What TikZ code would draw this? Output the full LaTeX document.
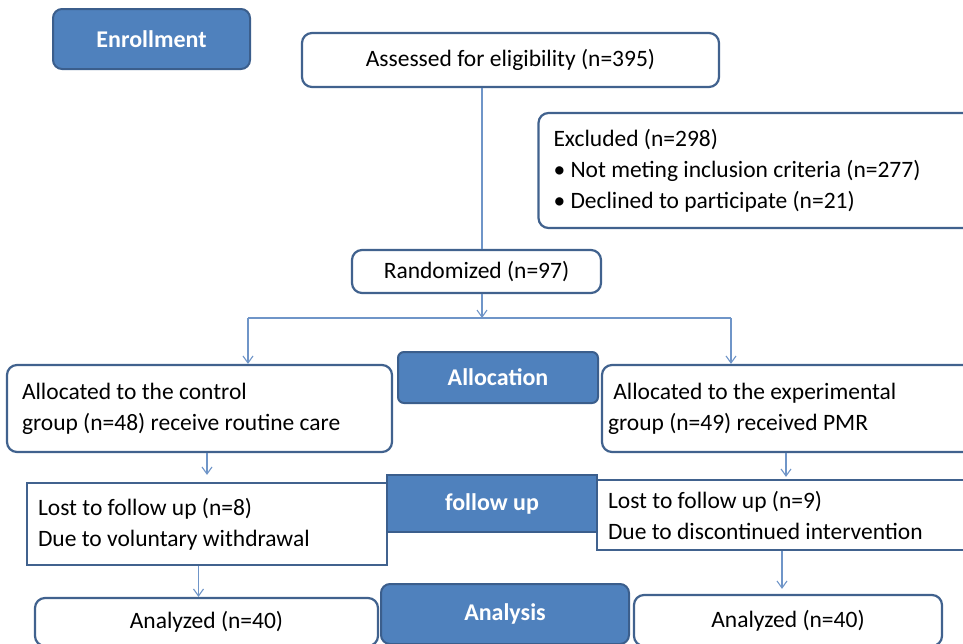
\documentclass[tikz,border=0pt]{standalone}
\usepackage{fontspec}
\setmainfont{Carlito}
\usetikzlibrary{positioning,arrows.meta,calc}
\definecolor{hdrblue}{HTML}{4F81BD}
\definecolor{hdredge}{HTML}{3B5E8C}
\definecolor{boxedge}{HTML}{41628E}
\definecolor{linkblue}{HTML}{6F95C8}

\begin{document}
\begin{tikzpicture}[x=1pt, y=-1pt,
    stage/.style={rectangle, draw=hdredge, line width=2pt, fill=hdrblue, rounded corners=9pt, text=white, font=\fontsize{24}{28}\selectfont\bfseries, align=center},
    box/.style={rectangle, draw=boxedge, line width=2.2pt, fill=white, rounded corners=10pt, font=\fontsize{23.5}{31}\selectfont, align=center},
    sqbox/.style={box, rounded corners=0pt},
    arrow/.style={-{Straight Barb[length=7pt,width=10pt]}, draw=linkblue, line width=1.1pt},
    link/.style={draw=linkblue, line width=1.1pt}
]
\useasboundingbox (0,0) rectangle (963,643);

% Enrollment
\node[box, minimum width=417pt, minimum height=54pt] (assessed) at (510.5,60) {Assessed for eligibility (n=395)};
\node[box, text width=406pt, inner xsep=15pt, minimum height=115pt, align=flush left] (excluded) at (756.5,170.5) {Excluded (n=298)\\ \textbullet\ Not meting inclusion criteria (n=277)\\ \textbullet\ Declined to participate (n=21)};
\node[box, minimum width=249pt, minimum height=43pt] (random) at (476.5,271.5) {Randomized (n=97)};

% Allocation
\node[box, text width=355pt, inner xsep=15pt, minimum height=87pt, align=flush left] (control) at (199.5,408.5) {Allocated to the control\\group (n=48) receive routine care};
\node[box, text width=361pt, inner xsep=6pt, minimum height=87pt, align=flush left] (exper) at (788.5,408.5) {\ Allocated to the experimental\\group (n=49) received PMR};

% Follow up
\node[sqbox, text width=338pt, inner xsep=11pt, minimum height=82pt, align=flush left] (lostctl) at (207,524) {Lost to follow up (n=8)\\Due to voluntary withdrawal};
\node[sqbox, text width=356pt, inner xsep=11pt, minimum height=70pt, align=flush left] (lostexp) at (786,515) {Lost to follow up (n=9)\\Due to discontinued intervention};

% Analysis
\node[box, minimum width=343pt, minimum height=48pt] (anactl) at (206.5,622) {Analyzed (n=40)};
\node[box, minimum width=308pt, minimum height=51pt] (anaexp) at (788,620.5) {Analyzed (n=40)};

% Stage labels
\node[stage, minimum width=197pt, minimum height=60pt] (enroll) at (151.5,39) {Enrollment};
\node[stage, minimum width=200pt, minimum height=51pt, rounded corners=6pt] (alloc) at (498,377.5) {Allocation};
\node[stage, rounded corners=0pt, minimum width=210pt, minimum height=57pt] (follow) at (492,503.5) {follow up};
\node[stage, minimum width=248pt, minimum height=60pt] (analysis) at (505,614) {Analysis};

% Connectors
\coordinate (split) at (482,318);
\coordinate (ctlturn) at (248,318);
\coordinate (expturn) at (731,318);
\coordinate (ctlin) at ($(anactl.north)+(-8,0)$);
\coordinate (expin) at ($(anaexp.north)+(-6,0)$);

\draw[link] (assessed.south -| split) -- (random.north -| split);
\draw[arrow] (random.south -| split) -- (split);
\draw[link] (ctlturn) -- (expturn);
\draw[arrow] (ctlturn) -- (ctlturn |- control.north);
\draw[arrow] (expturn) -- (expturn |- exper.north);
\draw[arrow, shorten >=7pt] (lostctl.north |- control.south) -- (lostctl.north);
\draw[arrow, shorten >=2pt] (lostexp.north |- exper.south) -- (lostexp.north);
\draw[arrow] (lostctl.south -| ctlin) -- (ctlin);
\draw[arrow, shorten >=5pt] (lostexp.south -| expin) -- (expin);

\end{tikzpicture}
\end{document}
